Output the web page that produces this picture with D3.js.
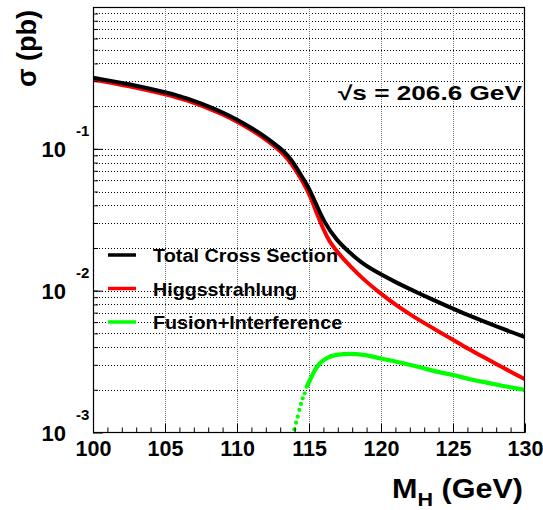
<!DOCTYPE html>
<html>
<head>
<meta charset="utf-8">
<script src="https://cdn.jsdelivr.net/npm/d3@7/dist/d3.min.js"></script>
<style>
  html, body { margin: 0; padding: 0; background: #fff; }
  svg { display: block; }
  text { font-family: "Liberation Sans", Arial, Helvetica, sans-serif; font-weight: bold; fill: #000; }
</style>
</head>
<body>
<svg id="chart" width="543" height="510"></svg>
<script>
// ---- data ----
const totalMass = [100,102.5,105,106,107,108,109,110,111,112,113,113.5,114,114.6,115.07,115.53,116.11,116.92,117.85,118.77,119.93,121.09,122.24,123.4,124.56,125.72,126.88,128.03,129.19,130];
const totalXsec = [0.3175,0.2852,0.2504,0.2347,0.2179,0.1995,0.1804,0.1605,0.1404,0.1206,0.1008,0.0900,0.0772,0.0615,0.0506,0.0400,0.0303,0.0230,0.01848,0.01550,0.01314,0.01139,0.01000,0.00882,0.00781,0.00695,0.00622,0.00559,0.00505,0.00470];
const higgsstrahlungMass = [100,102.5,105,106,107,108,109,110,111,112,113,113.5,114,114.6,115.07,115.53,115.99,116.46,117.15,117.85,118.77,119.93,121.09,122.24,123.4,124.56,125.72,126.88,128.03,129.19,130];
const higgsstrahlungXsec = [0.3074,0.2762,0.2424,0.2272,0.2109,0.1931,0.1746,0.1553,0.1357,0.1159,0.0962,0.0849,0.0726,0.0576,0.0463,0.0354,0.0273,0.0221,0.01789,0.01496,0.01211,0.00965,0.00787,0.00659,0.00560,0.00478,0.00408,0.00351,0.00303,0.00262,0.00237];
const fusionMass = [113.98,114.10,114.22,114.33,114.44,114.56,114.70,114.84,115.07,115.42,115.76,116.23,116.92,117.85,118.77,119.93,121.55,122.71,123.87,125.02,126.18,127.34,128.49,130];
const fusionXsec = [0.001053,0.001173,0.001293,0.001442,0.001589,0.001743,0.001891,0.002104,0.002347,0.002761,0.003079,0.003339,0.003523,0.003581,0.003523,0.003339,0.003079,0.002884,0.002686,0.002545,0.002374,0.002246,0.002129,0.001995];
const xTickLabels = ["100","105","110","115","120","125","130"];
const yDecadeExponents = [-3,-2,-1];
const legendLabels = ["Total Cross Section","Higgsstrahlung","Fusion+Interference"];
const legendColors = ["#000000","#ff0000","#00ff00"];
const energyLabel = "\u221As = 206.6 GeV";

// ---- layout ----
const L = 93, R = 525, T = 7, B = 432.5;
const svg = d3.select("#chart");
const x = d3.scaleLinear().domain([100,130]).range([L,R]);
const y = d3.scaleLog().domain([1e-3,1]).range([B,T]);

const minorLog = [];
for (let e = -3; e < 0; e++) for (let m = 1; m <= 9; m++) minorLog.push(m*Math.pow(10,e));
const gridY = minorLog.filter(v => v > 1.0001e-3 && v < 0.9999);
const gridX = [105,110,115,120,125];

const grid = svg.append("g");
grid.selectAll("line.gy").data(gridY).join("line")
  .attr("x1", L).attr("x2", R)
  .attr("y1", d => Math.round(y(d))+0.5).attr("y2", d => Math.round(y(d))+0.5)
  .attr("stroke", "#000").attr("stroke-width", 1).attr("stroke-dasharray", "1,2");
grid.selectAll("line.gx").data(gridX).join("line")
  .attr("x1", d => Math.round(x(d))+0.5).attr("x2", d => Math.round(x(d))+0.5)
  .attr("y1", T).attr("y2", B)
  .attr("stroke", "#777").attr("stroke-width", 1).attr("stroke-dasharray", "1,1");

svg.append("clipPath").attr("id","plotclip").append("rect")
  .attr("x", L).attr("y", T).attr("width", R-L).attr("height", B-T);
const plot = svg.append("g").attr("clip-path","url(#plotclip)");

const smooth = d3.line().x(d => x(d[0])).y(d => y(d[1])).curve(d3.curveNatural);
const mono = d3.line().x(d => x(d[0])).y(d => y(d[1])).curve(d3.curveMonotoneX);
const totalPts = totalMass.map((m,i) => [m,totalXsec[i]]);
const hzPts = higgsstrahlungMass.map((m,i) => [m,higgsstrahlungXsec[i]]);
const fusPts = fusionMass.map((m,i) => [m,fusionXsec[i]]);

plot.append("path").datum(fusPts.filter(d => d[0] >= 114.8))
  .attr("d", mono).attr("fill","none").attr("stroke", legendColors[2]).attr("stroke-width", 4.2);
plot.selectAll("circle.fus").data(fusPts.filter(d => d[0] < 115.2)).join("circle")
  .attr("cx", d => x(d[0])).attr("cy", d => y(d[1])).attr("r", 2.1).attr("fill", legendColors[2]);

plot.append("path").datum(hzPts)
  .attr("d", smooth).attr("fill","none").attr("stroke", legendColors[1]).attr("stroke-width", 4);
plot.append("path").datum(totalPts)
  .attr("d", smooth).attr("fill","none").attr("stroke", legendColors[0]).attr("stroke-width", 4);

svg.append("rect").attr("x", L+0.5).attr("y", T+0.5).attr("width", R-L-1).attr("height", B-T-0.5)
  .attr("fill","none").attr("stroke","#000").attr("stroke-width",1.2);

const xAxisG = svg.append("g").attr("transform", `translate(0,${B})`);
xAxisG.call(d3.axisBottom(x).tickValues(d3.range(100,131,1)).tickSize(-5).tickFormat(""));
const xMajor = svg.append("g").attr("transform", `translate(0,${B})`);
xMajor.call(d3.axisBottom(x).tickValues(xTickLabels.map(Number)).tickSize(-9).tickPadding(8)
  .tickFormat((d,i) => xTickLabels[i]));
[xAxisG, xMajor].forEach(g => { g.select(".domain").remove(); g.selectAll("line").attr("stroke","#000").attr("stroke-width",1); });
xMajor.selectAll("text").attr("font-size", 21.5).attr("font-family", "Liberation Sans, Arial, sans-serif")
  .attr("font-weight","bold").attr("fill","#000");

const yMinor = svg.append("g").attr("transform", `translate(${L},0)`);
yMinor.call(d3.axisLeft(y).tickValues(gridY).tickSize(-5).tickFormat(""));
const yMajor = svg.append("g").attr("transform", `translate(${L},0)`);
yMajor.call(d3.axisLeft(y).tickValues(yDecadeExponents.map(e => Math.pow(10,e))).tickSize(-10).tickFormat(""));
[yMinor, yMajor].forEach(g => { g.select(".domain").remove(); g.selectAll("line").attr("stroke","#000").attr("stroke-width",1); });

const yl = svg.append("g");
yDecadeExponents.forEach(e => {
  const yy = y(Math.pow(10,e));
  yl.append("text").attr("x", 66).attr("y", yy + 8.5).attr("text-anchor","end")
    .attr("font-size", 22).text("10");
  yl.append("text").attr("x", 76).attr("y", yy - 12.5).attr("text-anchor","start")
    .attr("font-size", 15).text(String(e));
});

function fitText(sel, left, base, target) {
  const w = sel.node().getComputedTextLength();
  sel.attr("transform", `translate(${left},${base}) scale(${target / w},1)`);
}

const xt = svg.append("text").attr("x", 0).attr("y", 0).attr("font-size", 27);
xt.append("tspan").text("M");
xt.append("tspan").attr("font-size", 19).attr("dy", 8).text("H");
xt.append("tspan").attr("dy", -8).text(" (GeV)");
fitText(xt, 392, 498, 131);

svg.append("text").attr("transform", "translate(36,10) rotate(-90)")
  .attr("text-anchor","end").attr("font-size", 27).text("\u03C3 (pb)");

const el = svg.append("text").attr("x", 0).attr("y", 0).attr("font-size", 20).text(energyLabel);
fitText(el, 338, 99.5, 184);

const legY = [255, 288.5, 322];
const legW = [185, 144, 189];
const leg = svg.append("g");
legendLabels.forEach((lab,i) => {
  leg.append("line").attr("x1",108).attr("x2",136).attr("y1",legY[i]).attr("y2",legY[i])
    .attr("stroke", legendColors[i]).attr("stroke-width", 3.5);
  const t = leg.append("text").attr("x",0).attr("y",0).attr("font-size",18.8).text(lab);
  fitText(t, 153, legY[i]+7, legW[i]);
});
</script>
</body>
</html>
